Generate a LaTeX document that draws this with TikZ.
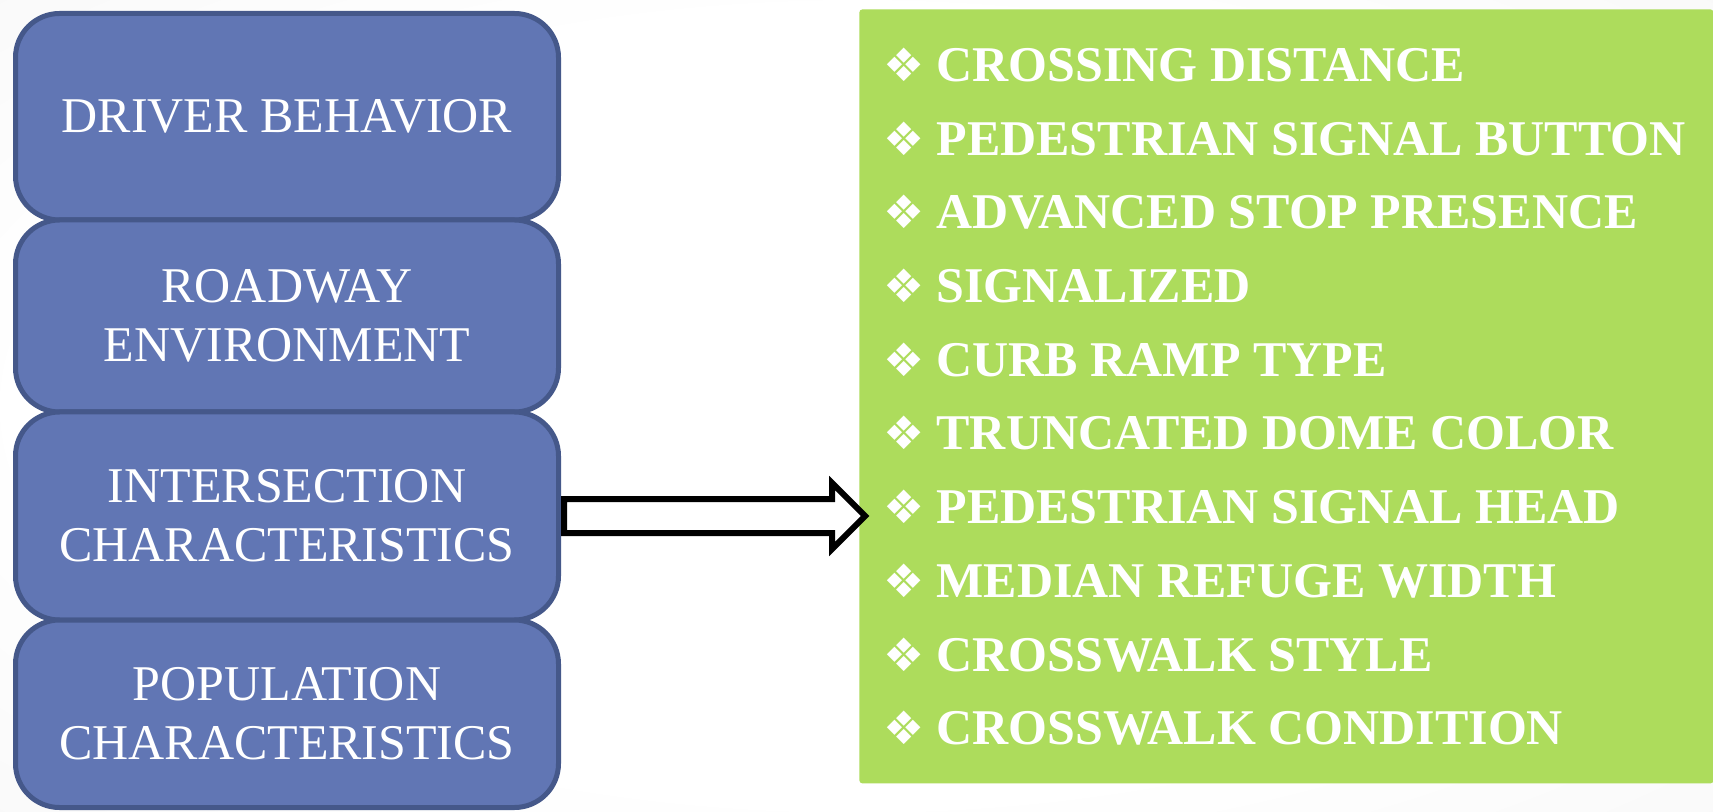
\documentclass[tikz,border=0pt]{standalone}
\usepackage{fontspec}
\setmainfont{Liberation Serif}
\newfontfamily\symfont{DejaVu Sans}
\usetikzlibrary{positioning, shapes.arrows}

\definecolor{boxblue}{RGB}{97,118,180}
\definecolor{boxedge}{RGB}{69,88,138}
\definecolor{listgreen}{RGB}{173,220,92}
\pgfdeclareradialshading{paper}{\pgfpoint{0bp}{0bp}}{color(0bp)=(white); color(24bp)=(white); color(50bp)=(black!5); color(72bp)=(black!12)}

\begin{document}
\begin{tikzpicture}[x=0.5pt, y=-0.5pt]
	\shade[shading=paper] (0,0) rectangle (1713,812);
	\useasboundingbox (0,0) rectangle (1713,812);

	% define the styles of the boxes, the list entries and the arrow
	\tikzstyle{factor} = [draw=boxedge, fill=boxblue, line width=2.5pt, rounded corners=22pt, minimum width=271.5pt, minimum height=#1, inner sep=0pt, align=center, text=white, font=\fontsize{25}{29.5}\selectfont]
	\tikzstyle{item} = [anchor=base west, inner sep=0pt, text=white, font=\bfseries\fontsize{25}{30}\selectfont]
	\tikzstyle{big arrow} = [draw=black, line width=3pt, fill=white, single arrow, single arrow tip angle=90, single arrow head extend=8pt, inner xsep=0pt, inner ysep=7pt, minimum height=150.5pt]

	\node[factor=103.25pt] (driver) at (287,116.75) {DRIVER BEHAVIOR};
	\node[factor=96pt] (roadway) at (287,316) {ROADWAY\\ENVIRONMENT};
	\node[factor=104pt] (inter) at (287,516) {INTERSECTION\\CHARACTERISTICS};
	\node[factor=93.75pt] (pop) at (287,713.75) {POPULATION\\CHARACTERISTICS};

	\node[fill=listgreen, rounded corners=1.5pt, minimum width=427pt, minimum height=387pt, inner sep=0pt, anchor=north west] (list) at (859,9) {};
	\foreach \txt [count=\i] in {CROSSING DISTANCE, PEDESTRIAN SIGNAL BUTTON, ADVANCED STOP PRESENCE, SIGNALIZED, CURB RAMP TYPE, TRUNCATED DOME COLOR, PEDESTRIAN SIGNAL HEAD, MEDIAN REFUGE WIDTH, CROSSWALK STYLE, CROSSWALK CONDITION}
		\node[item] (item\i) at (883,{81.5+73.7*(\i-1)}) {{\symfont\fontsize{23}{23}\selectfont ❖}\hspace{6pt}\txt};

	\node[big arrow, right=0pt of inter] (arrow) {};
\end{tikzpicture}
\end{document}
